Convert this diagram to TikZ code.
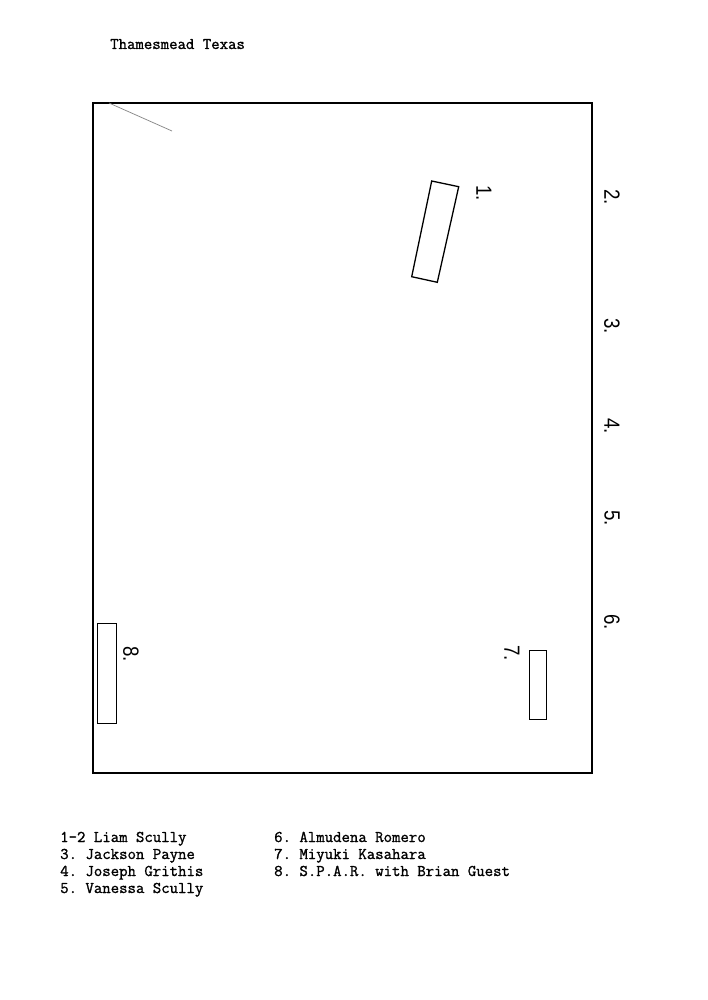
\documentclass[tikz,border=0pt]{standalone}
\usepackage{fontspec}
\newfontfamily\numfont[FakeStretch=0.85]{Liberation Sans}
\newfontfamily\legfont[FakeBold=1.2]{Latin Modern Mono}
\begin{document}
\frenchspacing
\begin{tikzpicture}[x=1pt,y=-1pt,
  frame/.style={draw=black,line width=1.6pt},
  box/.style={draw=black,line width=1.3pt},
  num/.style={font=\numfont\fontsize{22}{22}\selectfont,rotate=-90,inner sep=0pt},
  legend/.style={font=\legfont\fontsize{16.35}{17}\selectfont,anchor=base west,inner sep=0pt}]
\useasboundingbox[fill=white] (0,0) rectangle (707,1000);
\node[legend] (title) at (110,49) {Thamesmead Texas};
\draw[frame] (93,103) rectangle (592,773);
\coordinate (ga) at (109,103);
\coordinate (gb) at (172,131);
\draw[gray,line width=0.7pt] (ga) -- (gb);
\draw[box] (431.7,181) -- (458.7,186.7) -- (437.3,282.3) -- (411.7,276.7) -- cycle;
\draw[box] (97.5,623.3) rectangle (116.7,723.3);
\draw[box] (529.5,650.5) rectangle (546.5,719.5);
\node[num] (n1) at (484,193) {1.};
\node[num] (n2) at (612,197) {2.};
\node[num] (n3) at (612,326) {3.};
\node[num] (n4) at (612,426) {4.};
\node[num] (n5) at (612,518) {5.};
\node[num] (n6) at (612,622) {6.};
\node[num] (n7) at (512,653) {7.};
\node[num] (n8) at (131,654) {8.};
\node[legend] (l1) at (60,842) {1-2 Liam Scully};
\node[legend] (l3) at (60,859) {3. Jackson Payne};
\node[legend] (l4) at (60,876) {4. Joseph Grithis};
\node[legend] (l5) at (60,893) {5. Vanessa Scully};
\node[legend] (l6) at (274,842) {6. Almudena Romero};
\node[legend] (l7) at (274,859) {7. Miyuki Kasahara};
\node[legend] (l8) at (274,876) {8. S.P.A.R. with Brian Guest};
\end{tikzpicture}
\end{document}
